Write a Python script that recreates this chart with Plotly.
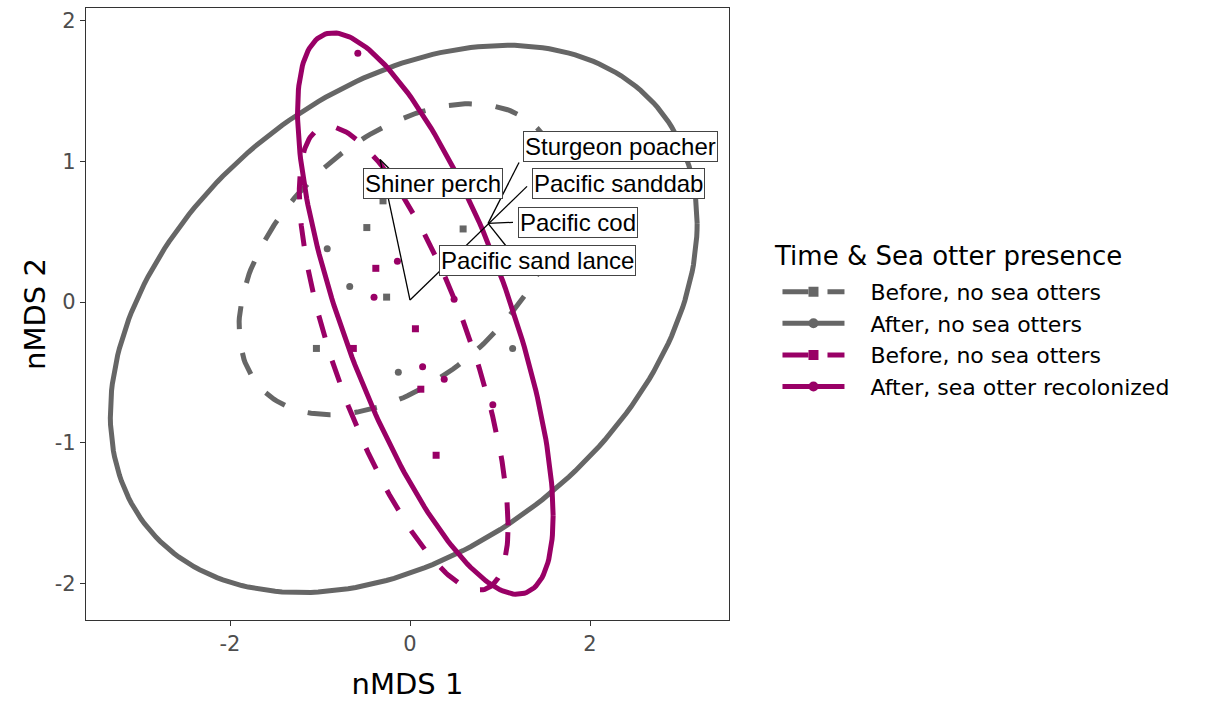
import numpy as np
import plotly.graph_objects as go

# --- group definitions -------------------------------------------------------
group_names = [
    "Before, no sea otters",
    "After, no sea otters",
    "Before, no sea otters",
    "After, sea otter recolonized",
]
group_colors = ["#666666", "#666666", "#990066", "#990066"]
group_dash = ["23px,24px", "solid", "23px,24px", "solid"]
group_symbol = ["square", "circle", "square", "circle"]

# --- site scores (nMDS 1, nMDS 2) per group ----------------------------------
before_gray_x = [-0.30, -0.48, 0.59, -0.26, -1.04]
before_gray_y = [0.72, 0.53, 0.52, 0.035, -0.33]

after_gray_x = [-0.92, -0.67, -0.13, 1.14]
after_gray_y = [0.38, 0.11, -0.50, -0.33]

before_mag_x = [-0.38, 0.06, 0.12, 0.29, -0.63]
before_mag_y = [0.24, -0.19, -0.62, -1.09, -0.33]

after_mag_x = [-0.58, -0.14, -0.40, 0.49, 0.14, 0.38, 0.92]
after_mag_y = [1.77, 0.29, 0.035, 0.02, -0.46, -0.55, -0.73]

points_x = [before_gray_x, after_gray_x, before_mag_x, after_mag_x]
points_y = [before_gray_y, after_gray_y, before_mag_y, after_mag_y]

# --- confidence ellipses: centre, half-width, half-height, correlation -------
ell_cx = [-0.11, -0.07, -0.07, 0.17]
ell_cy = [0.305, -0.12, -0.40, -0.082]
ell_sx = [1.79, 3.26, 1.16, 1.42]
ell_sy = [1.106, 1.947, 1.65, 1.997]
ell_r = [0.436, 0.35, -0.72, -0.72]

# --- species labels ----------------------------------------------------------
species = ["Sturgeon poacher", "Pacific sanddab", "Shiner perch",
           "Pacific cod", "Pacific sand lance"]
species_label_x = [2.344, 2.311, 0.256, 1.861, 1.417]
species_label_y = [1.106, 0.840, 0.844, 0.567, 0.298]

# connector segments (x0, y0, x1, y1)
segments = [
    (1.211, 0.993, 0.867, 0.560),   # Sturgeon poacher
    (1.300, 0.823, 0.000, 0.014),   # Pacific sanddab
    (-0.211, 0.936, -0.333, 1.014),  # Shiner perch
    (-0.333, 1.014, 0.000, 0.014),
    (1.144, 0.567, 0.867, 0.560),   # Pacific cod
    (0.867, 0.560, 1.078, 0.390),   # Pacific sand lance
]

THEME_FONT = "DejaVu Sans"
LABEL_FONT = "Liberation Sans, Arial"


def ellipse_path(cx, cy, sx, sy, r, n=240):
    t = np.linspace(0, 2 * np.pi, n)
    x = cx + sx * np.cos(t)
    y = cy + sy * (r * np.cos(t) + np.sqrt(1 - r * r) * np.sin(t))
    return x, y


fig = go.Figure()

for i in range(4):
    ex, ey = ellipse_path(ell_cx[i], ell_cy[i], ell_sx[i], ell_sy[i], ell_r[i])
    fig.add_trace(go.Scatter(
        x=ex, y=ey, mode="lines",
        line=dict(color=group_colors[i], width=5, dash=group_dash[i]),
        legendgroup=f"g{i}", showlegend=False, hoverinfo="skip",
    ))
    fig.add_trace(go.Scatter(
        x=points_x[i], y=points_y[i], mode="markers",
        marker=dict(color=group_colors[i], symbol=group_symbol[i], size=7),
        legendgroup=f"g{i}", showlegend=False,
    ))

# legend keys (line + point)
for i in range(4):
    fig.add_trace(go.Scatter(
        x=[None], y=[None], mode="lines+markers",
        name="\u00a0\u00a0\u00a0" + group_names[i],
        line=dict(color=group_colors[i], width=5,
                  dash="26px,19px" if group_dash[i] != "solid" else "solid"),
        marker=dict(color=group_colors[i], symbol=group_symbol[i], size=10),
        legendgroup=f"g{i}", showlegend=True,
    ))

for (x0, y0, x1, y1) in segments:
    fig.add_shape(type="line", x0=x0, y0=y0, x1=x1, y1=y1, xref="x", yref="y",
                  line=dict(color="black", width=1.3), layer="above")

for name, lx, ly in zip(species, species_label_x, species_label_y):
    fig.add_annotation(
        x=lx, y=ly, xref="x", yref="y", text=name, showarrow=False,
        xanchor="center", yanchor="middle",
        font=dict(family=LABEL_FONT, size=24, color="black"),
        bgcolor="white", bordercolor="#444444", borderwidth=1, borderpad=1,
    )

# legend title
fig.add_annotation(
    x=1.0669, y=0.5945, xref="paper", yref="paper",
    text="Time & Sea otter presence", showarrow=False,
    xanchor="left", yanchor="middle",
    font=dict(family=THEME_FONT, size=26, color="black"),
)

axis_common = dict(
    showgrid=False, zeroline=False, showline=True, mirror=True,
    linecolor="#333333", linewidth=1.3,
    ticks="outside", ticklen=5, tickcolor="#333333", tickwidth=1.3,
    tickfont=dict(family=THEME_FONT, size=21, color="#4d4d4d"),
)

fig.update_layout(
    width=1226, height=702,
    margin=dict(l=86, r=497, t=7, b=81),
    paper_bgcolor="white", plot_bgcolor="white",
    font=dict(family=THEME_FONT, color="black"),
    xaxis=dict(range=[-3.6, 3.544], tickvals=[-2, 0, 2],
               ticktext=["-2", "0", "2"],
               title=dict(text="nMDS 1", font=dict(size=29), standoff=18),
               **axis_common),
    yaxis=dict(range=[-2.262, 2.092], tickvals=[-2, -1, 0, 1, 2],
               ticktext=["-2", "-1", "0", "1", "2"],
               title=dict(text="nMDS 2", font=dict(size=29), standoff=0),
               **axis_common),
    legend=dict(
        x=1.0754, y=0.4585, xanchor="left", yanchor="middle",
        font=dict(family=THEME_FONT, size=22, color="black"),
        itemwidth=62, bgcolor="rgba(0,0,0,0)",
        tracegroupgap=0,
    ),
    showlegend=True,
)

fig.write_html("out.html")
